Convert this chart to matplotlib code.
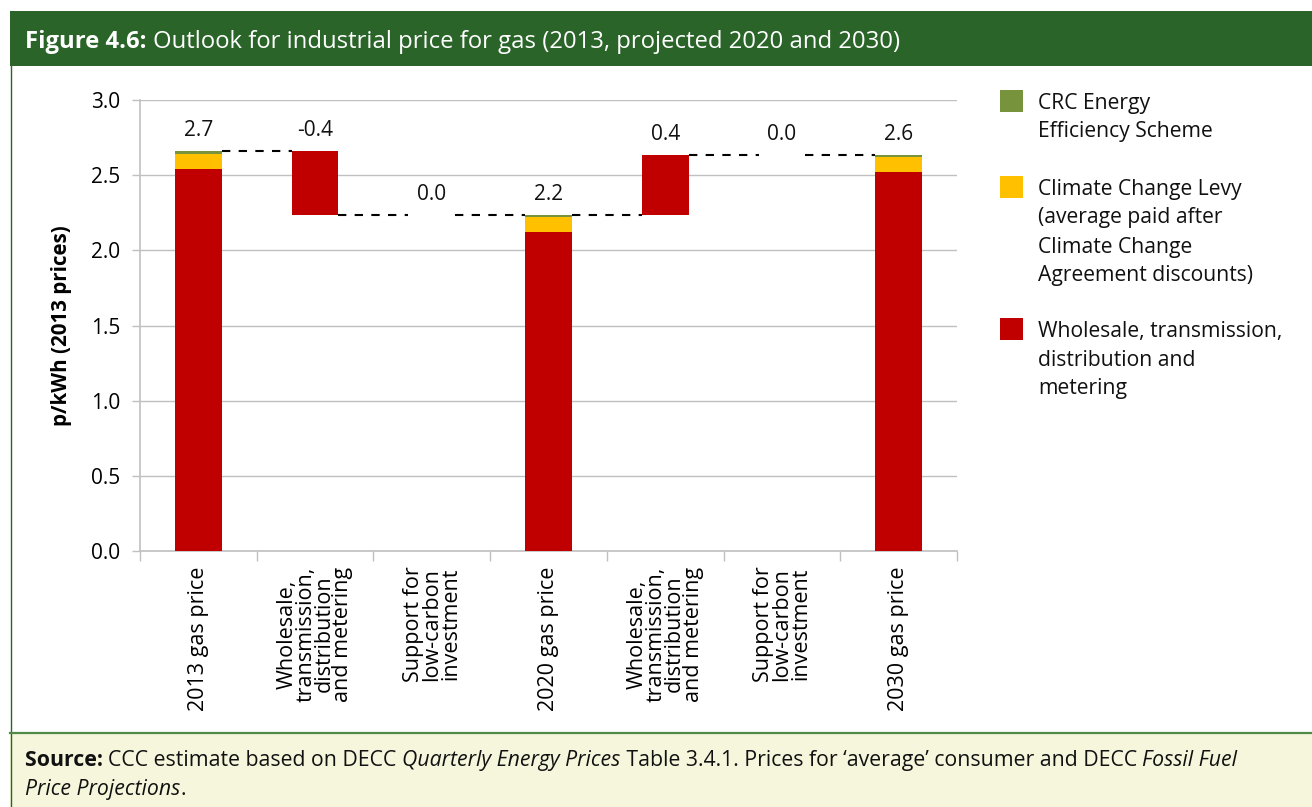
import matplotlib
matplotlib.use("Agg")
import matplotlib.pyplot as plt
from matplotlib.patches import Rectangle

plt.rcParams['font.family'] = ['Open Sans', 'DejaVu Sans']

# categories along the x axis
categories = ['2013 gas price',
              'Wholesale,\ntransmission,\ndistribution\nand metering',
              'Support for\nlow-carbon\ninvestment',
              '2020 gas price',
              'Wholesale,\ntransmission,\ndistribution\nand metering',
              'Support for\nlow-carbon\ninvestment',
              '2030 gas price']

# p/kWh, totals are stacked, the rest are changes between totals
is_total = [True, False, False, True, False, False, True]
wholesale = [2.54, None, None, 2.12, None, None, 2.52]
ccl = [0.10, None, None, 0.10, None, None, 0.10]
crc = [0.02, None, None, 0.015, None, None, 0.015]
changes = [None, -0.425, 0.0, None, 0.40, 0.0, None]

RED = '#c00000'
YELLOW = '#ffc000'
GREEN = '#77933c'
HEADER = '#2a6428'
GRID = '#c0c0c0'

W, H = 1312, 807
fig = plt.figure(figsize=(W / 100, H / 100), dpi=100)
fig.patch.set_facecolor('white')

def fx(px):
    return px / W

def fy(py):
    return 1 - py / H

# frame: header band, left border, footer band
fig.patches.append(Rectangle((fx(10), fy(66)), 1 - fx(10), fy(11) - fy(66),
                             transform=fig.transFigure, facecolor=HEADER,
                             edgecolor='none', zorder=0))
fig.add_artist(plt.Line2D([fx(10.5), fx(10.5)], [fy(66), 0], color=HEADER, lw=1,
                          transform=fig.transFigure))
fig.patches.append(Rectangle((fx(10), 0), 1 - fx(10), fy(733),
                             transform=fig.transFigure, facecolor='#f6f6dc',
                             edgecolor='none', zorder=0))
fig.add_artist(plt.Line2D([fx(10), 1], [fy(733), fy(733)], color='#4f8a48', lw=1.6,
                          transform=fig.transFigure))

ax = fig.add_axes([fx(140), fy(551), fx(957) - fx(140), fy(100) - fy(551)])
ax.set_facecolor('none')

x = list(range(len(categories)))
bw = 0.4
level = 0.0
tops = []
levels = []
for i in x:
    if is_total[i]:
        ax.bar(i, wholesale[i], bw, color=RED, zorder=3)
        ax.bar(i, ccl[i], bw, bottom=wholesale[i], color=YELLOW, zorder=3)
        ax.bar(i, crc[i], bw, bottom=wholesale[i] + ccl[i], color=GREEN, zorder=3)
        level = wholesale[i] + ccl[i] + crc[i]
        tops.append(level)
        label = level
    else:
        start = level
        level = start + changes[i]
        if changes[i] != 0:
            ax.bar(i, abs(changes[i]), bw, bottom=min(start, level), color=RED, zorder=3)
        tops.append(max(start, level))
        label = changes[i]
    levels.append(level)
    ax.annotate(f"{label:.1f}", (i, tops[-1]), xytext=(0, 7), textcoords='offset points',
                ha='center', va='bottom', fontsize=15, color='#111111', zorder=4)

# dashed connectors between neighbouring bars
for i in x[:-1]:
    ax.plot([i + bw / 2, i + 1 - bw / 2], [levels[i], levels[i]], color='black',
            lw=1.5, ls=(0, (4, 4)), zorder=4)

ax.set_xlim(-0.5, len(categories) - 0.5)
ax.set_ylim(0, 3.0)
ax.set_yticks([0, 0.5, 1.0, 1.5, 2.0, 2.5, 3.0])
ax.set_yticklabels([f"{v:.1f}" for v in ax.get_yticks()], fontsize=15)
ax.yaxis.grid(True, color=GRID, lw=1, zorder=0)
ax.set_axisbelow(True)
ax.tick_params(axis='y', length=6, width=1, color=GRID, pad=8)

ax.set_xticks(x)
ax.set_xticklabels(categories, rotation=90, fontsize=15.5, va='top',
                   multialignment='center', linespacing=0.85)
ax.tick_params(axis='x', which='major', length=0, pad=11)
ax.set_xticks([i - 0.5 for i in range(len(categories) + 1)], minor=True)
ax.tick_params(axis='x', which='minor', length=7, width=1, color=GRID)

for side in ('top', 'right'):
    ax.spines[side].set_visible(False)
for side in ('left', 'bottom'):
    ax.spines[side].set_color(GRID)
    ax.spines[side].set_linewidth(1.2)

ax.set_ylabel('p/kWh (2013 prices)', fontsize=14.8, fontweight='bold', labelpad=14)

# legend on the right
legend_items = [
    (GREEN, 90, ['CRC Energy', 'Efficiency Scheme']),
    (YELLOW, 176, ['Climate Change Levy', '(average paid after', 'Climate Change',
                   'Agreement discounts)']),
    (RED, 318, ['Wholesale, transmission,', 'distribution and', 'metering']),
]
for color, top, lines in legend_items:
    fig.patches.append(Rectangle((fx(1000), fy(top + 22)), fx(23), fy(top) - fy(top + 22),
                                 transform=fig.transFigure, facecolor=color,
                                 edgecolor='none'))
    for k, line in enumerate(lines):
        fig.text(fx(1038), fy(top + 13 + 29 * k), line, fontsize=15.2,
                 va='center', ha='left', color='#111111')

fig.canvas.draw()
renderer = fig.canvas.get_renderer()

def runs(x0, y0, pieces, size, color):
    # draw text pieces one after another on one baseline
    xpos = x0
    for text, weight, style in pieces:
        t = fig.text(fx(xpos), fy(y0), text, fontsize=size, fontweight=weight,
                     fontstyle=style, color=color, va='baseline', ha='left')
        xpos += t.get_window_extent(renderer).width

runs(25, 48, [('Figure 4.6: ', 'bold', 'normal'),
              ('Outlook for industrial price for gas (2013, projected 2020 and 2030)',
               'normal', 'normal')], 17.2, 'white')
runs(25, 766, [('Source: ', 'bold', 'normal'),
               ('CCC estimate based on DECC ', 'normal', 'normal'),
               ('Quarterly Energy Prices', 'normal', 'italic'),
               (" Table 3.4.1. Prices for \u2018average\u2019 consumer and DECC ", 'normal', 'normal'),
               ('Fossil Fuel', 'normal', 'italic')], 15.3, '#111111')
runs(25, 795, [('Price Projections', 'normal', 'italic'),
               ('.', 'normal', 'normal')], 15.3, '#111111')

fig.savefig('out.png', dpi=100, facecolor=fig.get_facecolor())
